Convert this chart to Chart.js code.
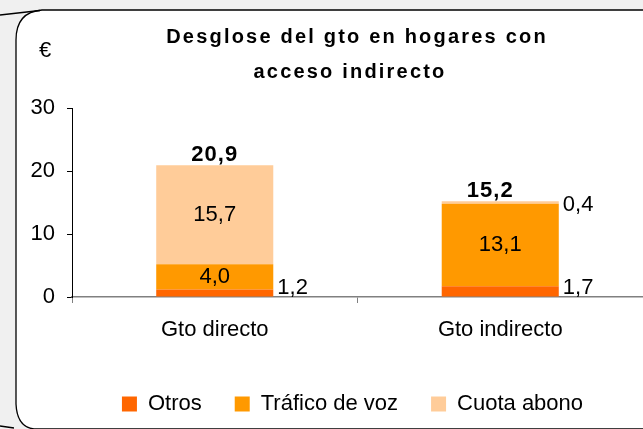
<!DOCTYPE html>
<html>
<head>
<meta charset="utf-8">
<script src="https://cdn.jsdelivr.net/npm/chart.js@4/dist/chart.umd.min.js"></script>
<style>
  body { margin: 0; background: #f0f0f0; }
  #wrap { width: 643px; height: 429px; position: relative; }
</style>
</head>
<body>
<div id="wrap"><canvas id="gasto-chart"></canvas></div>
<script>
// categories and series
const categorias = ['Gto directo', 'Gto indirecto'];
const otros = [1.2, 1.7];
const traficoVoz = [4.0, 13.1];
const cuotaAbono = [15.7, 0.4];
const totales = [20.9, 15.2];
const tituloLineas = ['Desglose del gto en hogares con', 'acceso indirecto'];

const fontFamily = '"Liberation Sans", Arial, sans-serif';
Chart.defaults.font.family = fontFamily;
Chart.defaults.font.size = 22;
Chart.defaults.color = '#000';

const fmt = v => v.toFixed(1).replace('.', ',');

// white panel with rounded left corners, title and euro sign
const panelPlugin = {
  id: 'panel',
  afterLayout(chart) {
    // legend sits a bit right of the canvas centre
    const lg = chart.legend;
    lg.top -= 4; lg.bottom -= 4;
    lg.left += 31; lg.right += 31;
  },
  beforeDraw(chart) {
    const c = chart.ctx;
    c.save();
    c.fillStyle = '#f0f0f0';
    c.fillRect(0, 0, chart.width, chart.height);
    c.beginPath();
    c.moveTo(700, 10);
    c.lineTo(42, 10);
    c.quadraticCurveTo(16, 12, 16, 40);
    c.lineTo(16, 404);
    c.quadraticCurveTo(17, 427, 34, 429);
    c.lineTo(700, 429);
    c.closePath();
    c.fillStyle = '#fff';
    c.fill();
    c.strokeStyle = '#000';
    c.lineWidth = 1.3;
    c.stroke();
    c.beginPath();
    c.moveTo(0, 15);
    c.lineTo(40, 10.5);
    c.moveTo(0, 426);
    c.lineTo(14, 428);
    c.stroke();

    c.fillStyle = '#000';
    c.textAlign = 'center';
    c.textBaseline = 'middle';
    c.font = 'bold 20px ' + fontFamily;
    c.letterSpacing = '2.2px';
    c.fillText(tituloLineas[0], 357, 37);
    c.fillText(tituloLineas[1], 350, 72);
    c.letterSpacing = '0px';
    c.font = '22px ' + fontFamily;
    c.fillText('€', 45, 51);
    c.restore();
  }
};

// segment values and bold totals
const labelPlugin = {
  id: 'valueLabels',
  afterDatasetsDraw(chart) {
    const c = chart.ctx;
    const yZero = chart.scales.y.getPixelForValue(0);
    c.save();
    c.fillStyle = '#000';
    c.textBaseline = 'middle';
    c.font = '22px ' + fontFamily;
    const last = chart.data.datasets.length - 1;
    chart.data.datasets.forEach((ds, i) => {
      chart.getDatasetMeta(i).data.forEach((bar, j) => {
        const h = bar.base - bar.y;
        const mid = (bar.y + bar.base) / 2;
        if (h > 16) {
          c.textAlign = 'center';
          c.fillText(fmt(ds.data[j]), bar.x, mid);
        } else {
          c.textAlign = 'left';
          c.fillText(fmt(ds.data[j]), bar.x + bar.width / 2 + 4, Math.min(mid + 2, yZero - 9));
        }
      });
    });
    c.font = 'bold 22px ' + fontFamily;
    c.letterSpacing = '1px';
    c.textAlign = 'center';
    chart.getDatasetMeta(last).data.forEach((bar, j) => {
      const shift = (bar.base - bar.y) > 16 ? 0 : -10;
      c.fillText(fmt(totales[j]), bar.x + shift, bar.y - 10);
    });
    c.restore();
  }
};

const chart = new Chart(document.getElementById('gasto-chart'), {
  type: 'bar',
  data: {
    labels: categorias,
    datasets: [
      { label: 'Otros', data: otros, backgroundColor: '#ff6600' },
      { label: 'Tráfico de voz', data: traficoVoz, backgroundColor: '#ff9900' },
      { label: 'Cuota abono', data: cuotaAbono, backgroundColor: '#ffcc99' }
    ]
  },
  options: {
    responsive: true,
    maintainAspectRatio: false,
    animation: false,
    datasets: {
      bar: { barPercentage: 0.41, categoryPercentage: 1, borderWidth: 0 }
    },
    layout: { padding: { top: 108, left: 0, right: 0, bottom: 0 } },
    plugins: {
      title: { display: false },
      tooltip: { enabled: false },
      legend: {
        display: true,
        position: 'bottom',
        labels: {
          boxWidth: 15,
          boxHeight: 15,
          padding: 33,
          font: { size: 22 },
          color: '#000'
        }
      }
    },
    scales: {
      x: {
        stacked: true,
        afterFit: s => { s.height = 67; },
        border: { display: true, color: '#808080', width: 1.5 },
        grid: { offset: true, drawOnChartArea: false, drawTicks: true, tickLength: 6, color: '#808080' },
        ticks: { padding: 14, font: { size: 22 }, color: '#000' }
      },
      y: {
        stacked: true,
        min: 0,
        max: 30,
        afterFit: s => { s.width = 72; },
        border: { display: true, color: '#000', width: 1 },
        grid: { drawOnChartArea: false, drawTicks: true, tickLength: 5, color: '#000' },
        ticks: { stepSize: 10, padding: 12, font: { size: 22 }, color: '#000' }
      }
    }
  },
  plugins: [panelPlugin, labelPlugin]
});
</script>
</body>
</html>
